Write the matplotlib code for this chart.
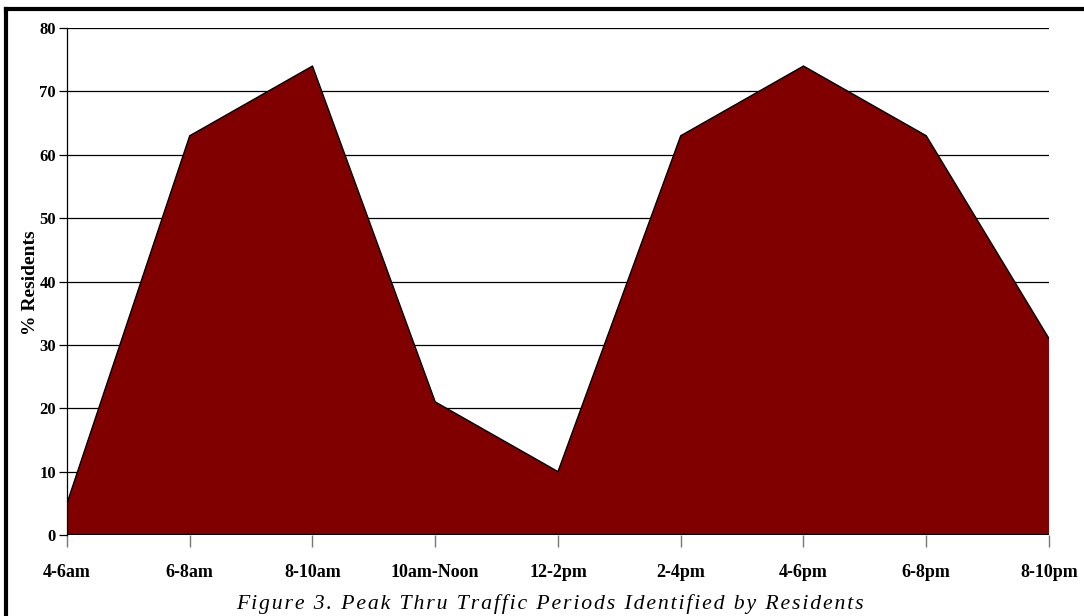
import matplotlib
matplotlib.use("Agg")
import matplotlib.pyplot as plt
from matplotlib.lines import Line2D

periods = ["4-6am", "6-8am", "8-10am", "10am-Noon", "12-2pm",
           "2-4pm", "4-6pm", "6-8pm", "8-10pm"]
pct_residents = [5, 63, 74, 21, 10, 63, 74, 63, 31]
y_ticks = [0, 10, 20, 30, 40, 50, 60, 70, 80]
caption = "Figure 3. Peak Thru Traffic Periods Identified by Residents"

fill_color = "#800000"

fig = plt.figure(figsize=(10.84, 6.16), dpi=100)
ax = fig.add_axes([0.0618, 0.1315, 0.9059, 0.8230])

x = list(range(len(periods)))
ax.fill_between(x, pct_residents, 0, facecolor=fill_color, edgecolor="none", zorder=3)
ax.plot(x, pct_residents, color="black", linewidth=1.0, zorder=4)

ax.set_xlim(0, len(periods) - 1)
ax.set_ylim(0, 80)
ax.set_yticks(y_ticks)
ax.set_xticks(x)
ax.set_xticklabels(periods)

for v in y_ticks[1:]:
    ax.axhline(v, color="black", linewidth=0.9, zorder=1)
ax.axhline(0, color="black", linewidth=1.5, zorder=5)

for side in ("top", "right", "bottom"):
    ax.spines[side].set_visible(False)
ax.spines["left"].set_linewidth(0.9)
ax.spines["left"].set_zorder(5)

for lbl in ax.get_xticklabels():
    lbl.set_fontfamily("Liberation Serif")
    lbl.set_fontweight("bold")
    lbl.set_fontsize(13)
for lbl in ax.get_yticklabels():
    lbl.set_fontfamily("Liberation Serif")
    lbl.set_fontweight("bold")
    lbl.set_fontsize(12)

ax.tick_params(axis="y", direction="out", length=5.8, width=0.9, color="black", pad=2.2)
ax.tick_params(axis="x", direction="out", length=8.6, width=1.0, color="#777777", pad=12)

ax.set_ylabel("% Residents", fontfamily="Liberation Serif", fontweight="bold",
              fontsize=14)
ax.yaxis.set_label_coords(-0.028, 0.497)

# caption set with loose letter spacing (hair spaces between glyphs)
spaced = "\u200a".join(caption)
fig.text(0.507, 1 - 604 / 616, spaced,
         ha="center", va="center",
         fontfamily=["Liberation Serif", "DejaVu Serif"], style="italic",
         fontsize=15.7)

# page border: heavy rule along the top and left edges
fig.add_artist(Line2D([0.0058, 1.0], [0.9855, 0.9855], transform=fig.transFigure,
                      color="black", linewidth=3))
fig.add_artist(Line2D([0.0058, 0.0058], [0.0, 0.9855], transform=fig.transFigure,
                      color="black", linewidth=3))

fig.savefig("out.png", dpi=100)
